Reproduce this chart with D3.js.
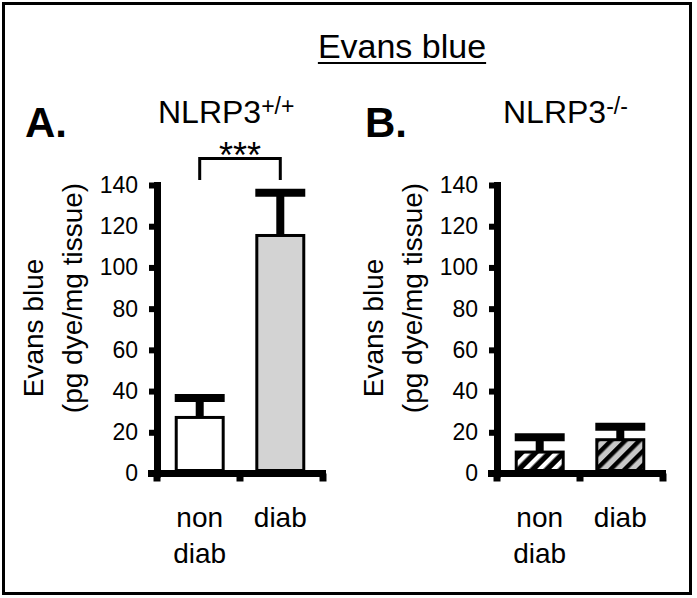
<!DOCTYPE html>
<html>
<head>
<meta charset="utf-8">
<script src="https://cdn.jsdelivr.net/npm/d3@7"></script>
<style>
  html, body { margin: 0; padding: 0; background: #fff; }
  svg text { font-family: "Liberation Sans", Arial, sans-serif; fill: #000; }
</style>
</head>
<body>
<svg id="chart" width="697" height="598"></svg>
<script>
// ---- data ----
var groups = ["non diab", "diab"];
var groupLines = [["non", "diab"], ["diab"]];
var wtMeans = [27.2, 115.5];
var wtErrors = [9.4, 20.7];
var koMeans = [10.4, 16.4];
var koErrors = [7.2, 6.3];
var yTicks = [0, 20, 40, 60, 80, 100, 120, 140];
var yTitle = ["Evans blue", "(pg dye/mg tissue)"];

var svg = d3.select("#chart");

// hatch patterns for the knockout bars
var defs = svg.append("defs");
function hatch(id, bg, fg) {
  var p = defs.append("pattern")
    .attr("id", id)
    .attr("patternUnits", "userSpaceOnUse")
    .attr("width", 10).attr("height", 10)
    .attr("patternTransform", "rotate(45)");
  p.append("rect").attr("width", 10).attr("height", 10).attr("fill", bg);
  p.append("rect").attr("width", 4.5).attr("height", 10).attr("fill", fg);
}
hatch("hatchBW", "#000", "#fff");
hatch("hatchGray", "#c8c8c8", "#000");

// outer frame
svg.append("rect")
  .attr("x", 3.5).attr("y", 3.5)
  .attr("width", 687).attr("height", 590)
  .attr("fill", "none").attr("stroke", "#000").attr("stroke-width", 3);

// main title, underlined
var title = svg.append("text")
  .attr("x", 402).attr("y", 58)
  .attr("text-anchor", "middle")
  .attr("font-size", 34)
  .text("Evans blue");
var tw = title.node().getComputedTextLength();
svg.append("line")
  .attr("x1", 402 - tw / 2).attr("x2", 402 + tw / 2)
  .attr("y1", 63).attr("y2", 63)
  .attr("stroke", "#000").attr("stroke-width", 2);

var y = d3.scaleLinear().domain([0, 140]).range([473.5, 185]);

function panel(p) {
  var g = svg.append("g").attr("transform", "translate(" + p.left + ",0)");

  var x = d3.scaleBand()
    .domain(groups)
    .range([0, 166])
    .paddingInner(0.38)
    .paddingOuter(0.22);

  //y axis
  var ga = g.append("g")
    .call(d3.axisLeft(y).tickValues(yTicks).tickSize(8).tickSizeOuter(0).tickPadding(11))
    .attr("font-size", 23)
    .attr("font-family", "Liberation Sans, Arial, sans-serif");
  ga.select(".domain").attr("stroke-width", 7).attr("stroke-linecap", "square");
  ga.selectAll(".tick line").attr("stroke-width", 6);

  //x axis with ticks at the band edges
  g.append("line")
    .attr("x1", -9).attr("x2", 169)
    .attr("y1", y(0)).attr("y2", y(0))
    .attr("stroke", "#000").attr("stroke-width", 7);
  var edges = [x.range()[0], (x(groups[0]) + x.bandwidth() + x(groups[1])) / 2, x.range()[1]];
  g.selectAll(".xtick").data(edges).enter().append("line")
    .attr("class", "xtick")
    .attr("x1", function(d) { return d; }).attr("x2", function(d) { return d; })
    .attr("y1", y(0)).attr("y2", y(0) + 8)
    .attr("stroke", "#000").attr("stroke-width", 7);

  var rows = groups.map(function(k, i) {
    return { key: k, mean: p.means[i], err: p.errors[i], fill: p.fills[i], lines: groupLines[i] };
  });

  //error bars (stem + cap)
  g.selectAll(".stem").data(rows).enter().append("line")
    .attr("class", "stem")
    .attr("x1", function(d) { return x(d.key) + x.bandwidth() / 2; })
    .attr("x2", function(d) { return x(d.key) + x.bandwidth() / 2; })
    .attr("y1", function(d) { return y(d.mean); })
    .attr("y2", function(d) { return y(d.mean + d.err); })
    .attr("stroke", "#000").attr("stroke-width", 8);
  g.selectAll(".cap").data(rows).enter().append("line")
    .attr("class", "cap")
    .attr("x1", function(d) { return x(d.key); })
    .attr("x2", function(d) { return x(d.key) + x.bandwidth(); })
    .attr("y1", function(d) { return y(d.mean + d.err); })
    .attr("y2", function(d) { return y(d.mean + d.err); })
    .attr("stroke", "#000").attr("stroke-width", 8);

  //bars
  g.selectAll(".bar").data(rows).enter().append("rect")
    .attr("class", "bar")
    .attr("x", function(d) { return x(d.key) + 1.5; })
    .attr("width", x.bandwidth() - 3)
    .attr("y", function(d) { return y(d.mean); })
    .attr("height", function(d) { return y(0) - 3 - y(d.mean); })
    .attr("fill", function(d) { return d.fill; })
    .attr("stroke", "#000").attr("stroke-width", 3);

  //category labels
  var lab = g.selectAll(".xlab").data(rows).enter().append("text")
    .attr("class", "xlab")
    .attr("text-anchor", "middle")
    .attr("font-size", 28)
    .attr("transform", function(d) { return "translate(" + (x(d.key) + x.bandwidth() / 2) + ",527)"; });
  lab.selectAll("tspan").data(function(d) { return d.lines; }).enter().append("tspan")
    .attr("x", 0)
    .attr("y", function(d, i) { return i * 36; })
    .text(function(d) { return d; });

  //y axis title, two rotated lines
  g.selectAll(".ytitle").data(yTitle).enter().append("text")
    .attr("class", "ytitle")
    .attr("text-anchor", "middle")
    .attr("font-size", 28)
    .attr("transform", function(d, i) { return "translate(" + (i ? -75 : -114) + "," + (i ? 298 : 328) + ") rotate(-90)"; })
    .text(function(d) { return d; });

  //panel letter and genotype
  g.append("text")
    .attr("x", -132).attr("y", 137)
    .attr("font-family", "Lato, 'Liberation Sans', sans-serif")
    .attr("font-weight", "bold")
    .attr("font-size", 42)
    .text(p.letter);
  var gt = g.append("text").attr("x", p.genoX).attr("y", 123).attr("font-size", 32);
  gt.append("tspan").text("NLRP3");
  gt.append("tspan").attr("font-size", 23).attr("dy", -9).text(p.sup);

  return { g: g, x: x };
}

var a = panel({ left: 157, means: wtMeans, errors: wtErrors, fills: ["#fff", "#d3d3d3"], letter: "A.", genoX: 1, sup: "+/+" });
panel({ left: 497, means: koMeans, errors: koErrors, fills: ["url(#hatchBW)", "url(#hatchGray)"], letter: "B.", genoX: 6, sup: "-/-" });

// significance bracket between the wild type groups
var bx0 = a.x(groups[0]) + a.x.bandwidth() / 2;
var bx1 = a.x(groups[1]) + a.x.bandwidth() / 2;
a.g.append("path")
  .attr("d", "M" + bx0 + ",180V158.5H" + bx1 + "V180")
  .attr("fill", "none").attr("stroke", "#000").attr("stroke-width", 3);
a.g.append("text")
  .attr("x", (bx0 + bx1) / 2).attr("y", 168)
  .attr("text-anchor", "middle")
  .attr("font-size", 36)
  .text("***");
</script>
</body>
</html>
